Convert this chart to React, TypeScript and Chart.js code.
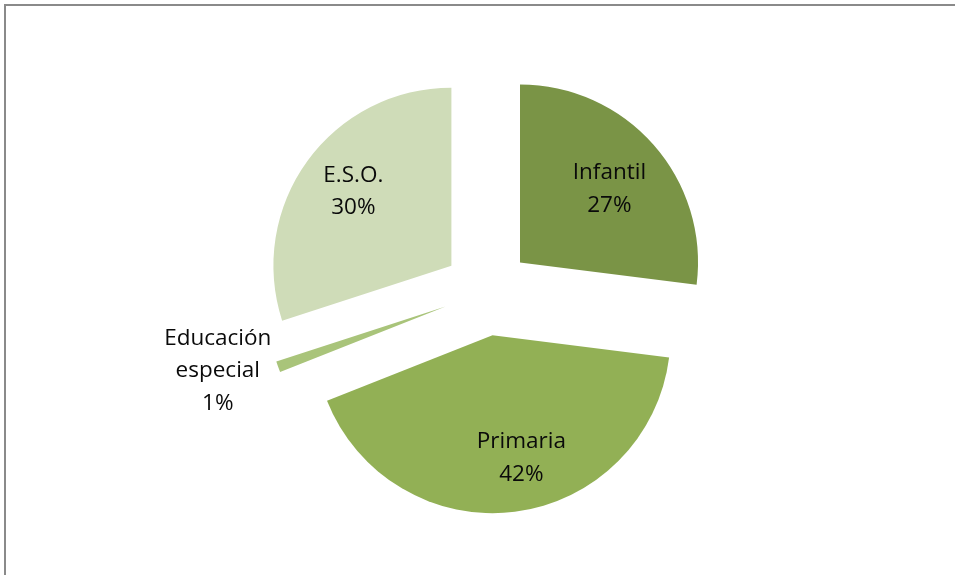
import React, { useEffect, useRef } from "react";
import { Chart, registerables } from "chart.js";

Chart.register(...registerables);

const categories = ["Infantil", "Primaria", "Educación especial", "E.S.O."];
const labelLines = [["Infantil"], ["Primaria"], ["Educación", "especial"], ["E.S.O."]];
const percentages = [27, 42, 1, 30];
const colors = ["#7A9446", "#92B055", "#A9C47A", "#CFDCB8"];

const EXPLODE = 44;
// radial fraction and angular nudge (degrees) for each label
const labelFrac = [0.65, 0.71, 1.33, 0.69];
const labelNudge = [2, -6, 4, 1];

const explodePlugin = {
  id: "explode",
  afterDatasetsUpdate(chart: any) {
    const meta = chart.getDatasetMeta(0);
    meta.data.forEach((arc: any) => {
      const mid = (arc.startAngle + arc.endAngle) / 2;
      arc.x = arc.x + Math.cos(mid) * EXPLODE;
      arc.y = arc.y + Math.sin(mid) * EXPLODE;
    });
  },
};

const labelPlugin = {
  id: "sliceLabels",
  afterDatasetsDraw(chart: any) {
    const ctx = chart.ctx;
    const meta = chart.getDatasetMeta(0);
    ctx.save();
    ctx.font = "22.5px 'Open Sans', Lato, sans-serif";
    ctx.fillStyle = "#0a0a0a";
    ctx.textAlign = "center";
    ctx.textBaseline = "middle";
    const lh = 32.5;
    meta.data.forEach((arc: any, i: number) => {
      const mid = (arc.startAngle + arc.endAngle) / 2 + (labelNudge[i] * Math.PI) / 180;
      const r = arc.outerRadius * labelFrac[i];
      const cx = arc.x + Math.cos(mid) * r;
      const cy = arc.y + Math.sin(mid) * r;
      const lines = [...labelLines[i], percentages[i] + "%"];
      const top = cy - ((lines.length - 1) * lh) / 2;
      lines.forEach((t, k) => ctx.fillText(t, cx, top + k * lh));
    });
    ctx.restore();
  },
};

export default function App() {
  const ref = useRef<HTMLCanvasElement>(null);
  useEffect(() => {
    if (!ref.current) return;
    const chart = new Chart(ref.current, {
      type: "pie",
      data: {
        labels: categories,
        datasets: [
          {
            data: percentages,
            backgroundColor: colors,
            borderWidth: 0,
            radius: 178,
          } as any,
        ],
      },
      options: {
        animation: false,
        responsive: false,
        events: [],
        layout: { padding: { left: 19, top: 8, right: 0, bottom: 0 } },
        plugins: {
          legend: { display: false },
          tooltip: { enabled: false },
        },
      },
      plugins: [explodePlugin, labelPlugin],
    });
    return () => chart.destroy();
  }, []);

  return (
    <div style={{ position: "fixed", left: 0, top: 0, width: 955, height: 575, overflow: "hidden", background: "#fff" }}>
      <canvas ref={ref} width={955} height={575} style={{ position: "absolute", left: 0, top: 0 }} />
      <div
        style={{
          position: "absolute",
          left: 4,
          top: 4,
          width: 1100,
          height: 800,
          borderTop: "2px solid #8a8a8a",
          borderLeft: "2px solid #8a8a8a",
          pointerEvents: "none",
        }}
      />
    </div>
  );
}
